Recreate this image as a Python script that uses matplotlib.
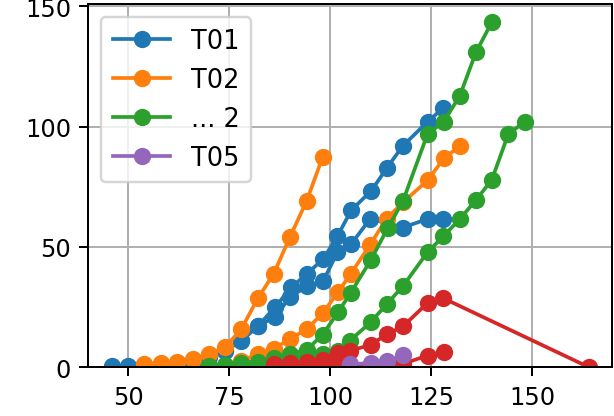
import matplotlib
matplotlib.use("Agg")
import matplotlib.pyplot as plt

# ---- data ----
t01a_x = [46, 50, 54, 58, 62, 66, 70, 74, 78, 82.2, 86.3, 90.4, 94.2, 98.3, 101.8, 105.2, 110.2, 114.0, 117.9, 124.1, 127.9]
t01a_y = [0.5, 0.6, 0.9, 1.2, 1.8, 2.6, 4.2, 7.0, 11.5, 17.3, 24.9, 33.2, 38.8, 45.0, 54.5, 65.2, 73.4, 82.7, 91.8, 102.0, 107.6]
t01b_x = [74, 78, 82.2, 86.3, 90.0, 94.2, 98.3, 101.8, 105.2, 109.9, 117.9, 124.1, 128.0]
t01b_y = [6.9, 11.0, 17.3, 20.8, 29.1, 33.6, 36.0, 47.8, 51.2, 61.7, 58.0, 61.6, 61.5]

t02a_x = [54, 58, 62, 66, 70, 74, 78, 82.1, 86.0, 90.0, 94.2, 98.1]
t02a_y = [1.4, 1.7, 2.1, 3.4, 5.5, 8.3, 15.9, 28.7, 38.8, 54.0, 69.2, 87.2]
t02b_x = [78, 82.2, 86.2, 90.0, 94.2, 98.2, 101.9, 105.1, 109.9, 114.0, 118.0, 124.1, 128.2, 132.1]
t02b_y = [2.8, 5.5, 7.8, 11.8, 15.8, 22.6, 31.2, 38.8, 51.0, 61.8, 68.5, 77.6, 86.9, 91.8]

t03a_x = [70, 74, 78, 82.1, 86.1, 90.0, 94.2, 98.1, 101.9, 105.1, 110.1, 114.2, 118.0, 124.1, 128.1, 132.1, 136.1, 140.1]
t03a_y = [0.6, 0.9, 1.6, 2.4, 3.9, 5.5, 7.3, 13.5, 22.8, 31.0, 44.7, 57.7, 69.0, 96.9, 102.0, 112.8, 130.9, 143.6]
t03b_x = [74, 78, 82, 86, 90, 94.2, 98.1, 102.0, 104.9, 110.0, 114.1, 118.0, 124.1, 128.0, 132.1, 136.1, 140.0, 144.1, 148.2]
t03b_y = [0.4, 0.8, 1.3, 2.0, 2.9, 4.8, 5.5, 6.9, 11.1, 18.7, 26.4, 33.7, 47.8, 54.4, 61.6, 69.5, 77.8, 96.9, 102.0]

t04a_x = [86, 90, 94.2, 98.1, 102.0, 104.9, 110.0, 114.1, 118.0, 124.1, 128.0, 164.1]
t04a_y = [1.2, 1.7, 2.1, 3.0, 5.9, 6.9, 9.3, 13.8, 17.0, 26.7, 28.7, 0.0]
t04b_x = [86, 90, 94.2, 98.1, 102.0, 105.0, 110.0, 114.0, 118.0, 124.1, 128.1]
t04b_y = [0.3, 0.5, 0.6, 0.9, 1.2, 1.0, 0.6, 0.5, 1.4, 4.9, 6.4]

t05_x = [104.9, 110.0, 114.0, 118.0]
t05_y = [1.2, 1.8, 2.5, 5.0]

legend_labels = ["T01", "T02", "... 2", "T05"]

# ---- figure ----
DPI = 177.8
fig = plt.figure(figsize=(614 / DPI, 417 / DPI), dpi=DPI)
ax = fig.add_axes([88.3 / 614, (417 - 368.3) / 417, (611.7 - 88.3) / 614, (368.3 - 5) / 417])

C = {"blue": "#1f77b4", "orange": "#ff7f0e", "green": "#2ca02c", "red": "#d62728", "purple": "#9467bd"}
kw = dict(marker="o")
l1, = ax.plot(t01a_x, t01a_y, color=C["blue"], **kw)
ax.plot(t01b_x, t01b_y, color=C["blue"], **kw)
l2, = ax.plot(t02a_x, t02a_y, color=C["orange"], **kw)
ax.plot(t02b_x, t02b_y, color=C["orange"], **kw)
l3, = ax.plot(t03a_x, t03a_y, color=C["green"], **kw)
ax.plot(t03b_x, t03b_y, color=C["green"], **kw)
ax.plot(t04a_x, t04a_y, color=C["red"], **kw)
ax.plot(t04b_x, t04b_y, color=C["red"], **kw)
l5, = ax.plot(t05_x, t05_y, color=C["purple"], **kw)

ax.set_xlim(40.1, 169.7)
ax.set_ylim(0, 150.9)
ax.set_xticks([50, 75, 100, 125, 150])
ax.set_yticks([0, 50, 100, 150])
ax.tick_params(labelsize=9.8)
ax.grid(True)
ax.legend([l1, l2, l3, l5], legend_labels, loc="upper left", fontsize=10.4,
          handlelength=2.25, labelspacing=0.5, borderpad=0.45, borderaxespad=0.5)

fig.savefig("out.png", dpi=DPI)
